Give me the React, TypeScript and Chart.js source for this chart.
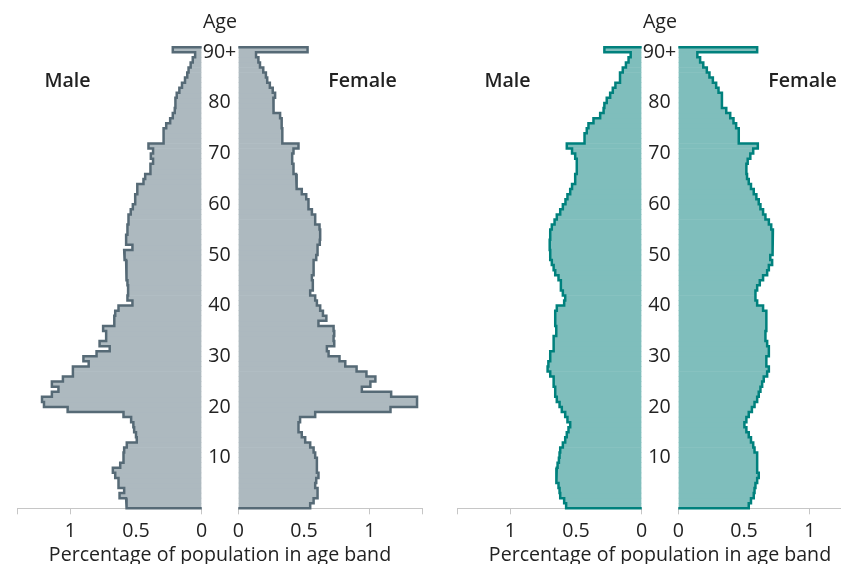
import React, { useEffect, useRef } from 'react';
import { Chart, registerables } from 'chart.js';

Chart.register(...registerables);

// Age bands 0..90 (the last band is "90+")
const AGES = Array.from({ length: 91 }, (_, i) => i);
const AGE_TICKS = [10, 20, 30, 40, 50, 60, 70, 80, 90];
const AGE_TICK_LABELS = ['10', '20', '30', '40', '50', '60', '70', '80', '90+'];
const X_TICKS = [0, 0.5, 1, 1.4];
const X_TICK_LABELS = ['0', '0.5', '1', ''];

// Percentage of population in each age band, index = age (0 .. 90+)
const MALE_A = [
  0.57, 0.575, 0.625, 0.59, 0.633, 0.633, 0.658, 0.676, 0.62, 0.595,
  0.595, 0.59, 0.57, 0.494, 0.5, 0.514, 0.52, 0.537, 0.595, 1.02,
  1.2, 1.215, 1.14, 1.09, 1.14, 1.056, 0.98, 0.98, 0.86, 0.9,
  0.8, 0.7, 0.777, 0.727, 0.727, 0.75, 0.665, 0.665, 0.658, 0.633,
  0.527, 0.565, 0.56, 0.56, 0.565, 0.57, 0.57, 0.575, 0.575, 0.585,
  0.59, 0.527, 0.575, 0.575, 0.565, 0.565, 0.557, 0.557, 0.54, 0.524,
  0.506, 0.506, 0.49, 0.49, 0.443, 0.43, 0.39, 0.39, 0.37, 0.387,
  0.37, 0.405, 0.29, 0.29, 0.29, 0.27, 0.24, 0.22, 0.205, 0.2,
  0.2, 0.19, 0.17, 0.15, 0.127, 0.11, 0.1, 0.084, 0.068, 0.05,
  0.22,
];
const FEMALE_A = [
  0.547, 0.573, 0.603, 0.603, 0.585, 0.593, 0.61, 0.598, 0.598, 0.598,
  0.585, 0.573, 0.547, 0.509, 0.483, 0.458, 0.458, 0.47, 0.585, 1.158,
  1.36, 1.36, 1.163, 0.94, 1.005, 1.043, 0.975, 0.9, 0.814, 0.77,
  0.687, 0.674, 0.73, 0.725, 0.73, 0.725, 0.61, 0.67, 0.644, 0.623,
  0.598, 0.585, 0.547, 0.567, 0.567, 0.56, 0.573, 0.573, 0.573, 0.593,
  0.603, 0.603, 0.62, 0.623, 0.623, 0.618, 0.585, 0.585, 0.56, 0.534,
  0.534, 0.517, 0.483, 0.445, 0.445, 0.44, 0.42, 0.42, 0.41, 0.41,
  0.42, 0.458, 0.335, 0.335, 0.335, 0.33, 0.33, 0.318, 0.27, 0.267,
  0.267, 0.28, 0.262, 0.24, 0.22, 0.21, 0.19, 0.165, 0.153, 0.135,
  0.527,
];
const MALE_B = [
  0.575, 0.59, 0.62, 0.625, 0.633, 0.65, 0.65, 0.646, 0.64, 0.63,
  0.625, 0.62, 0.6, 0.582, 0.57, 0.557, 0.544, 0.565, 0.582, 0.608,
  0.625, 0.646, 0.658, 0.658, 0.67, 0.67, 0.696, 0.716, 0.71, 0.696,
  0.696, 0.67, 0.67, 0.67, 0.65, 0.65, 0.658, 0.658, 0.658, 0.646,
  0.59, 0.582, 0.6, 0.615, 0.615, 0.633, 0.658, 0.67, 0.684, 0.696,
  0.696, 0.7, 0.7, 0.696, 0.696, 0.684, 0.663, 0.646, 0.62, 0.6,
  0.58, 0.565, 0.544, 0.53, 0.506, 0.506, 0.494, 0.494, 0.494, 0.506,
  0.53, 0.57, 0.435, 0.435, 0.418, 0.405, 0.367, 0.316, 0.29, 0.284,
  0.266, 0.24, 0.22, 0.2, 0.165, 0.165, 0.144, 0.12, 0.1, 0.084,
  0.284,
];
const FEMALE_B = [
  0.536, 0.553, 0.574, 0.58, 0.587, 0.6, 0.612, 0.6, 0.6, 0.6,
  0.6, 0.58, 0.57, 0.553, 0.536, 0.518, 0.503, 0.518, 0.536, 0.56,
  0.58, 0.6, 0.612, 0.625, 0.638, 0.65, 0.676, 0.689, 0.67, 0.67,
  0.689, 0.689, 0.676, 0.663, 0.663, 0.67, 0.67, 0.67, 0.67, 0.645,
  0.6, 0.587, 0.587, 0.6, 0.62, 0.645, 0.676, 0.689, 0.714, 0.7,
  0.714, 0.714, 0.72, 0.72, 0.72, 0.707, 0.689, 0.663, 0.645, 0.625,
  0.612, 0.594, 0.574, 0.553, 0.536, 0.523, 0.518, 0.518, 0.528, 0.548,
  0.57, 0.605, 0.46, 0.46, 0.46, 0.44, 0.42, 0.395, 0.365, 0.332,
  0.332, 0.332, 0.306, 0.288, 0.263, 0.237, 0.217, 0.19, 0.166, 0.145,
  0.6,
];

const GREY_FILL = '#adb9bf';
const GREY_LINE = '#566a76';
const TEAL_FILL = '#7fbebc';
const TEAL_LINE = '#00817d';
const TEXT = '#222222';
const AXIS = '#c6c6c6';
const FONT = '"Open Sans", sans-serif';
const FS = 19.6;

const CH_H = 564;
const PLOT_TOP = 47.2;
const XAXIS_H = 55.7;
const AGE_AXIS_W = 36.3;

function outlinePoints(values: number[]) {
  const pts: { x: number; y: number }[] = [{ x: 0, y: AGES[AGES.length - 1] + 0.5 }];
  for (let i = AGES.length - 1; i >= 0; i--) {
    pts.push({ x: values[i], y: AGES[i] + 0.5 });
    pts.push({ x: values[i], y: AGES[i] - 0.5 });
  }
  pts.push({ x: 0, y: AGES[0] - 0.5 });
  return pts;
}

type HalfProps = {
  left: number;
  width: number;
  padLeft: number;
  padRight: number;
  male: boolean;
  values: number[];
  fill: string;
  stroke: string;
};

function Half({ left, width, padLeft, padRight, male, values, fill, stroke }: HalfProps) {
  const ref = useRef<HTMLCanvasElement>(null);
  useEffect(() => {
    const chart = new Chart(ref.current as HTMLCanvasElement, {
      type: 'bar',
      data: {
        datasets: [
          {
            type: 'line',
            data: outlinePoints(values),
            borderColor: stroke,
            borderWidth: 2.5,
            pointRadius: 0,
            fill: false,
            tension: 0,
            clip: false,
            borderJoinStyle: 'miter',
            borderCapStyle: 'butt',
            order: 0,
          } as any,
          {
            type: 'bar',
            data: AGES.map((a, i) => ({ x: values[i], y: a })),
            backgroundColor: fill,
            borderWidth: 0,
            barPercentage: 1,
            categoryPercentage: 1,
            order: 1,
          } as any,
        ],
      },
      options: {
        indexAxis: 'y',
        responsive: false,
        animation: false,
        events: [],
        layout: { autoPadding: false, padding: { left: padLeft, right: padRight, top: PLOT_TOP, bottom: 0 } },
        plugins: { legend: { display: false }, tooltip: { enabled: false } },
        scales: {
          x: {
            type: 'linear',
            min: 0,
            max: 1.4,
            offset: false,
            reverse: male,
            afterBuildTicks: (s: any) => {
              s.ticks = X_TICKS.map((v) => ({ value: v }));
            },
            afterFit: (s: any) => {
              s.height = XAXIS_H;
            },
            grid: {
              display: true,
              offset: false,
              drawOnChartArea: false,
              drawTicks: true,
              tickLength: 6,
              tickWidth: 1,
              tickColor: (c: any) => (c.tick && c.tick.value === 0.5 ? 'rgba(0,0,0,0)' : AXIS),
            },
            border: { display: true, color: AXIS, width: 1 },
            ticks: {
              autoSkip: false,
              maxRotation: 0,
              padding: 5,
              color: TEXT,
              font: { family: FONT, size: FS },
              callback: (_v: any, i: number) => X_TICK_LABELS[i],
            },
          },
          y: {
            type: 'linear',
            min: AGES[0] - 0.5,
            max: AGES[AGES.length - 1] + 0.5,
            offset: false,
            display: !male,
            position: 'left',
            afterBuildTicks: (s: any) => {
              s.ticks = AGE_TICKS.map((v) => ({ value: v }));
            },
            afterFit: (s: any) => {
              s.width = male ? 0 : AGE_AXIS_W;
            },
            grid: { display: false, offset: false, drawTicks: false },
            border: { display: false },
            ticks: {
              autoSkip: false,
              crossAlign: 'center',
              padding: 2,
              labelOffset: 2.5,
              color: TEXT,
              font: { family: FONT, size: FS },
              callback: (_v: any, i: number) => AGE_TICK_LABELS[i],
            },
          },
        },
      } as any,
    });
    return () => chart.destroy();
  }, []);
  return (
    <canvas
      ref={ref}
      width={width}
      height={CH_H}
      style={{ position: 'absolute', left, top: 0, width, height: CH_H, display: 'block' }}
    />
  );
}

function Label({ cx, cy, text, bold }: { cx: number; cy: number; text: string; bold?: boolean }) {
  return (
    <div
      style={{
        position: 'absolute',
        left: cx - 250,
        top: cy - 12,
        width: 500,
        height: 24,
        lineHeight: '24px',
        textAlign: 'center',
        fontFamily: FONT,
        fontSize: FS,
        fontWeight: bold ? 600 : 400,
        color: TEXT,
        whiteSpace: 'nowrap',
        pointerEvents: 'none',
      }}
    >
      {text}
    </div>
  );
}

function Pyramid({ dx, male, female, fill, stroke }: { dx: number; male: number[]; female: number[]; fill: string; stroke: string }) {
  return (
    <>
      <Half left={dx} width={216} padLeft={17.7} padRight={216 - 201.7} male values={male} fill={fill} stroke={stroke} />
      <Half left={dx + 202} width={240} padLeft={0} padRight={240 - 220.3} male={false} values={female} fill={fill} stroke={stroke} />
      <Label cx={dx + 220} cy={21} text="Age" />
      <Label cx={dx + 67.5} cy={79.5} text="Male" bold />
      <Label cx={dx + 362.5} cy={79.5} text="Female" bold />
      <Label cx={dx + 220} cy={554} text="Percentage of population in age band" />
    </>
  );
}

export default function App() {
  return (
    <div
      style={{
        position: 'fixed',
        left: 0,
        top: 0,
        width: 841,
        height: 564,
        overflow: 'hidden',
        background: '#ffffff',
      }}
    >
      <Pyramid dx={0} male={MALE_A} female={FEMALE_A} fill={GREY_FILL} stroke={GREY_LINE} />
      <Pyramid dx={440} male={MALE_B} female={FEMALE_B} fill={TEAL_FILL} stroke={TEAL_LINE} />
    </div>
  );
}
